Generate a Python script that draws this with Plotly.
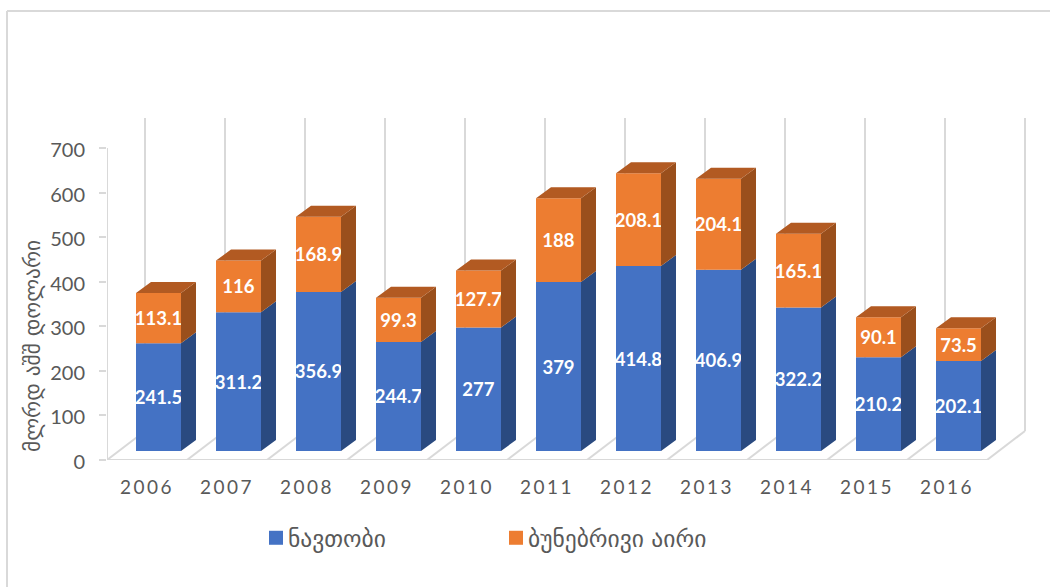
import plotly.graph_objects as go

years = [2006, 2007, 2008, 2009, 2010, 2011, 2012, 2013, 2014, 2015, 2016]
oil = [241.5, 311.2, 356.9, 244.7, 277, 379, 414.8, 406.9, 322.2, 210.2, 202.1]
gas = [113.1, 116, 168.9, 99.3, 127.7, 188, 208.1, 204.1, 165.1, 90.1, 73.5]
oil_name = "ნავთობი"
gas_name = "ბუნებრივი აირი"
y_title = "მლრდ აშშ დოლარი"
y_ticks = [0, 100, 200, 300, 400, 500, 600, 700]

W, H = 1050, 587
PX_X = 80.0
PX_Y = 312 / 700
L, R, B, T = 107, 1030, 460, 110
FLOOR = 9 / PX_Y
BAR_W = 45 / PX_X
BAR_OFF = -11 / PX_X
DX = 15 / PX_X
DY = 11 / PX_Y
WALL_DX = 38 / PX_X
WALL_DY = 29 / PX_Y
WALL_TOP = 342 / PX_Y
x0 = years[0] - 0.5
x_end = x0 + (R - L) / PX_X
y_end = (B - T) / PX_Y

GRID = "#D9D9D9"
TEXT = "#595959"
LAT = "Lato, Carlito, sans-serif"
GEO = "Sylfaen, 'DejaVu Sans', sans-serif"

fig = go.Figure()
base = [FLOOR] * len(years)
mid = [FLOOR + v for v in oil]


def side_path(bottoms, tops):
    xs, ys = [], []
    for yr, b, t in zip(years, bottoms, tops):
        xr = yr + BAR_OFF + BAR_W
        xs += [xr, xr + DX, xr + DX, xr, xr, None]
        ys += [b, b + DY, t + DY, t, b, None]
    return xs, ys


def top_path(tops):
    xs, ys = [], []
    for yr, t in zip(years, tops):
        xl = yr + BAR_OFF
        xr = xl + BAR_W
        xs += [xl, xr, xr + DX, xl + DX, xl, None]
        ys += [t, t, t + DY, t + DY, t, None]
    return xs, ys


fig.add_bar(x=years, y=oil, base=base, name=oil_name, width=BAR_W, offset=BAR_OFF,
            marker=dict(color="#4472C4", line=dict(width=0)), text=[str(v) for v in oil])
fig.add_bar(x=years, y=gas, base=mid, name=gas_name, width=BAR_W, offset=BAR_OFF,
            marker=dict(color="#ED7D31", line=dict(width=0)), text=[str(v) for v in gas])
fig.update_traces(textposition="inside", insidetextanchor="middle", textangle=0,
                  constraintext="none", cliponaxis=False, hoverinfo="skip",
                  textfont=dict(family=LAT, size=18.5, color="white", weight="bold"))

tops = [m + g for m, g in zip(mid, gas)]
for (xs, ys), col in [(side_path(base, mid), "#2A4A80"),
                      (side_path(mid, tops), "#9A4F1C"),
                      (top_path(tops), "#B25A22")]:
    fig.add_scatter(x=xs, y=ys, mode="lines", fill="toself", fillcolor=col,
                    line=dict(width=0, color=col), showlegend=False, hoverinfo="skip",
                    cliponaxis=False)

shapes = []
def gl(x1, y1, x2, y2):
    shapes.append(dict(type="line", xref="x", yref="y", x0=x1, y0=y1, x1=x2, y1=y2,
                       layer="below", line=dict(color=GRID, width=2)))

for k in range(len(years) + 1):
    fx = x0 + k
    gl(fx, 0, fx + WALL_DX, WALL_DY)
    gl(fx + WALL_DX, WALL_DY, fx + WALL_DX, WALL_TOP)
gl(x0, 0, x0, y_ticks[-1])
gl(x0, 0, x0 + len(years), 0)

# outer chart frame: left and top edges only, running off the picture
def px(v):
    return (v - L) / (R - L)
def py(v):
    return (B - v) / (B - T)
for a, b, c, d in [(7, 11, 1050, 11), (7, 11, 7, 587)]:
    shapes.append(dict(type="line", xref="paper", yref="paper", layer="below",
                       x0=px(a), y0=py(b), x1=px(c), y1=py(d),
                       line=dict(color=GRID, width=2)))

fig.update_layout(
    width=W, height=H, autosize=False, barmode="overlay",
    margin=dict(l=L, r=W - R, t=T, b=H - B, pad=0, autoexpand=False),
    paper_bgcolor="white", plot_bgcolor="rgba(0,0,0,0)",
    font=dict(family=LAT, color=TEXT),
    shapes=shapes,
    legend=dict(orientation="h", x=px(256), y=py(516),
                xanchor="left", yanchor="top", entrywidth=195, entrywidthmode="pixels",
                font=dict(family=GEO, size=23.5, color=TEXT), traceorder="normal",
                bgcolor="rgba(0,0,0,0)"),
    annotations=[dict(text=y_title, xref="paper", yref="y", x=px(32), xanchor="center",
                      yanchor="middle", y=(B - 346) / PX_Y, textangle=-90, showarrow=False,
                      font=dict(family=GEO, size=21.5, color=TEXT))],
)
fig.update_xaxes(range=[x0, x_end], tickmode="array", tickvals=years, ticktext=[str(y) for y in years],
                 showgrid=False, zeroline=False, showline=False, ticks="", ticklabelstandoff=14,
                 tickfont=dict(family=LAT, size=19, color=TEXT))
fig.update_yaxes(range=[0, y_end], tickmode="array", tickvals=y_ticks, showgrid=False,
                 zeroline=False, showline=False, ticks="outside", ticklen=7, tickwidth=2,
                 tickcolor=GRID, ticklabelstandoff=10, tickfont=dict(family=LAT, size=20, color=TEXT))

post = """
document.body.style.margin='0';
document.querySelectorAll('.xtick text').forEach(function(t){t.style.letterSpacing='2.5px';});
document.querySelectorAll('.ytick text').forEach(function(t){t.setAttribute('y', parseFloat(t.getAttribute('y'))+2);});
document.querySelectorAll('.legend .legendtext').forEach(function(t){t.setAttribute('x', 32);});
document.querySelectorAll('.legend .legendpoints path').forEach(function(p){p.setAttribute('d','M7,7H-7V-7H7Z');});
"""
fig.write_html("out.html", post_script=post, config=dict(displayModeBar=False))
